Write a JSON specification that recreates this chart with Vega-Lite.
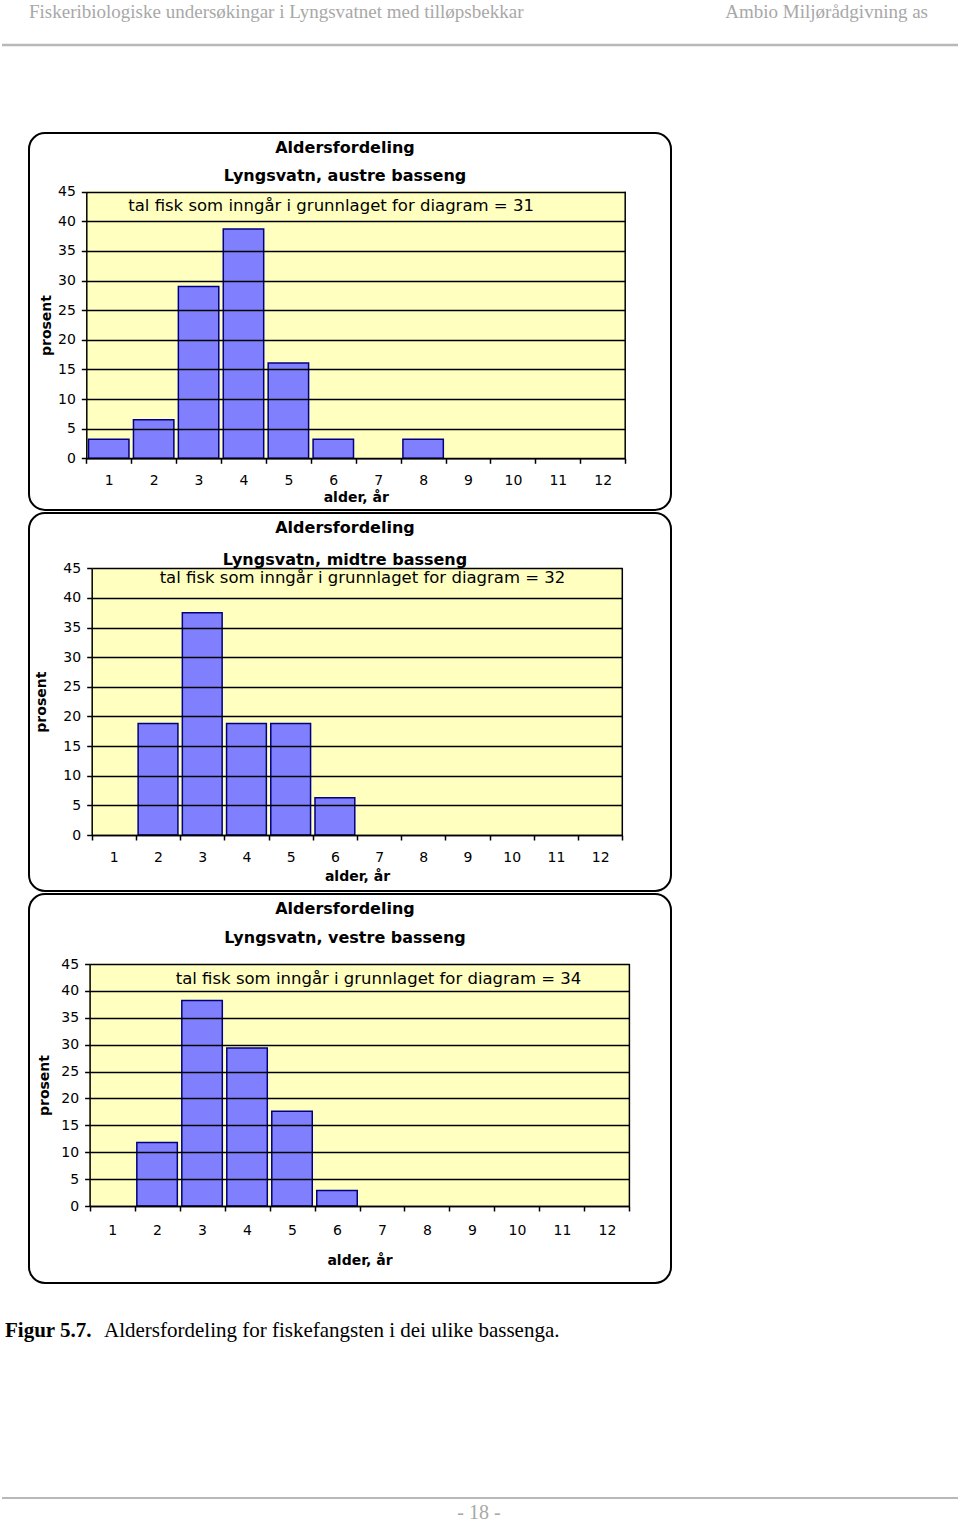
{
  "$schema": "https://vega.github.io/schema/vega-lite/v6.json",
  "padding": 0,
  "background": "white",
  "spacing": 3,
  "bounds": "flush",
  "config": {
    "view": {"stroke": null},
    "font": "DejaVu Sans",
    "text": {"color": "black"},
    "axis": {
      "labelFont": "DejaVu Sans", "labelFontSize": 14, "labelColor": "black",
      "titleFont": "DejaVu Sans", "titleFontSize": 14, "titleFontWeight": "bold", "titleColor": "black",
      "domainColor": "black", "domainWidth": 1.5, "tickColor": "black", "tickWidth": 1.5, "tickSize": 5,
      "gridColor": "black", "gridOpacity": 1, "gridWidth": 1.5
    },
    "title": {
      "font": "DejaVu Sans", "fontSize": 16, "fontWeight": "bold", "color": "black",
      "subtitleFont": "DejaVu Sans", "subtitleFontSize": 16, "subtitleFontWeight": "bold", "subtitleColor": "black",
      "anchor": "middle", "frame": "group"
    }
  },
  "datasets": {
    "alder": [
      {"basseng": "austre", "alder": 1, "prosent": 3.2},
      {"basseng": "austre", "alder": 2, "prosent": 6.5},
      {"basseng": "austre", "alder": 3, "prosent": 29.0},
      {"basseng": "austre", "alder": 4, "prosent": 38.7},
      {"basseng": "austre", "alder": 5, "prosent": 16.1},
      {"basseng": "austre", "alder": 6, "prosent": 3.2},
      {"basseng": "austre", "alder": 7, "prosent": 0},
      {"basseng": "austre", "alder": 8, "prosent": 3.2},
      {"basseng": "austre", "alder": 9, "prosent": 0},
      {"basseng": "austre", "alder": 10, "prosent": 0},
      {"basseng": "austre", "alder": 11, "prosent": 0},
      {"basseng": "austre", "alder": 12, "prosent": 0},
      {"basseng": "midtre", "alder": 1, "prosent": 0},
      {"basseng": "midtre", "alder": 2, "prosent": 18.8},
      {"basseng": "midtre", "alder": 3, "prosent": 37.5},
      {"basseng": "midtre", "alder": 4, "prosent": 18.8},
      {"basseng": "midtre", "alder": 5, "prosent": 18.8},
      {"basseng": "midtre", "alder": 6, "prosent": 6.3},
      {"basseng": "midtre", "alder": 7, "prosent": 0},
      {"basseng": "midtre", "alder": 8, "prosent": 0},
      {"basseng": "midtre", "alder": 9, "prosent": 0},
      {"basseng": "midtre", "alder": 10, "prosent": 0},
      {"basseng": "midtre", "alder": 11, "prosent": 0},
      {"basseng": "midtre", "alder": 12, "prosent": 0},
      {"basseng": "vestre", "alder": 1, "prosent": 0},
      {"basseng": "vestre", "alder": 2, "prosent": 11.8},
      {"basseng": "vestre", "alder": 3, "prosent": 38.2},
      {"basseng": "vestre", "alder": 4, "prosent": 29.4},
      {"basseng": "vestre", "alder": 5, "prosent": 17.6},
      {"basseng": "vestre", "alder": 6, "prosent": 2.9},
      {"basseng": "vestre", "alder": 7, "prosent": 0},
      {"basseng": "vestre", "alder": 8, "prosent": 0},
      {"basseng": "vestre", "alder": 9, "prosent": 0},
      {"basseng": "vestre", "alder": 10, "prosent": 0},
      {"basseng": "vestre", "alder": 11, "prosent": 0},
      {"basseng": "vestre", "alder": 12, "prosent": 0}
    ]
  },
  "vconcat": [
    {
      "width": 929, "height": 130,
      "view": {"stroke": null},
      "layer": [
        {
          "data": {"values": [{}]},
          "mark": {"type": "rule", "stroke": "#b8b8b8", "strokeWidth": 2.5},
          "encoding": {
            "x": {"datum": 1, "type": "quantitative", "scale": {"domain": [0, 957], "range": [-28, 929], "nice": false, "zero": false}, "axis": null},
            "x2": {"datum": 957},
            "y": {"datum": 45, "type": "quantitative", "scale": {"domain": [0, 130], "range": [0, 130], "nice": false, "zero": false}, "axis": null}
          }
        },
        {
          "data": {"values": [{"t": "Fiskeribiologiske undersøkingar i Lyngsvatnet med tilløpsbekkar"}]},
          "mark": {"type": "text", "align": "left", "baseline": "middle", "font": "Liberation Serif", "fontSize": 19, "color": "#a8a8a8"},
          "encoding": {
            "text": {"field": "t"},
            "x": {"datum": 28, "type": "quantitative", "axis": null},
            "y": {"datum": 12, "type": "quantitative", "axis": null}
          }
        },
        {
          "data": {"values": [{"t": "Ambio Miljørådgivning as"}]},
          "mark": {"type": "text", "align": "right", "baseline": "middle", "font": "Liberation Serif", "fontSize": 19, "color": "#a8a8a8"},
          "encoding": {
            "text": {"field": "t"},
            "x": {"datum": 927, "type": "quantitative", "axis": null},
            "y": {"datum": 12, "type": "quantitative", "axis": null}
          }
        }
      ]
    },
    {
      "width": 642, "height": 377,
      "view": {"fill": "white", "stroke": "black", "strokeWidth": 2, "cornerRadius": 16},
      "title": {"text": "Aldersfordeling", "subtitle": "Lyngsvatn, austre basseng", "offset": -51, "subtitlePadding": 11.7, "dx": -5},
      "encoding": {
        "x": {"field": "alder", "type": "ordinal",
          "scale": {"domain": [1,2,3,4,5,6,7,8,9,10,11,12], "range": [57.3, 596.2], "paddingInner": 0, "paddingOuter": 0},
          "axis": {"orient": "bottom", "offset": -51.7, "tickBand": "extent", "labelAngle": 0, "labelPadding": 10.5, "grid": false, "title": "alder, år", "titleY": 38.8, "titleBaseline": "middle", "zindex": 1}}
      },
      "layer": [
        {
          "data": {"name": "alder"},
          "transform": [{"filter": "datum.basseng === 'austre'"}],
          "mark": {"type": "bar", "fill": "#ffffc0", "stroke": "#ffffc0", "strokeWidth": 1, "zindex": 0},
          "encoding": {"y": {"datum": 45, "type": "quantitative", "scale": {"domain": [0, 45], "range": [325.3, 58.7], "nice": false, "zero": false}}}
        },
        {
          "data": {"values": [{}]},
          "mark": {"type": "rule", "color": "black", "strokeWidth": 1.5, "zindex": 1},
          "encoding": {
            "x": {"datum": 12, "type": "ordinal", "bandPosition": 1},
            "y": {"datum": 0, "type": "quantitative"},
            "y2": {"datum": 45}
          }
        },
        {
          "data": {"name": "alder"},
          "transform": [{"filter": "datum.basseng === 'austre' && datum.prosent > 0"}],
          "mark": {"type": "bar", "fill": "#8080ff", "stroke": "#000080", "strokeWidth": 1.5, "width": {"band": 0.9}, "zindex": 2},
          "encoding": {"y": {"field": "prosent", "type": "quantitative",
            "scale": {"domain": [0, 45], "range": [325.3, 58.7], "nice": false, "zero": false},
            "axis": {"orient": "left", "offset": -57.3, "values": [0,5,10,15,20,25,30,35,40,45], "grid": true, "labelPadding": 6, "title": "prosent", "titleX": -40.3, "titleBaseline": "middle", "zindex": 1}}}
        },
        {
          "data": {"values": [{"t": "tal fisk som inngår i grunnlaget for diagram = 31"}]},
          "mark": {"type": "text", "fontSize": 16.5, "color": "black", "zindex": 3},
          "encoding": {
            "text": {"field": "t"},
            "x": {"datum": 6, "type": "ordinal", "bandPosition": 0.45},
            "y": {"datum": 42.6, "type": "quantitative"}
          }
        }
      ]
    },
    {
      "width": 642, "height": 378,
      "view": {"fill": "white", "stroke": "black", "strokeWidth": 2, "cornerRadius": 16},
      "title": {"text": "Aldersfordeling", "subtitle": "Lyngsvatn, midtre basseng", "offset": -55.3, "subtitlePadding": 16.6, "dx": -5},
      "encoding": {
        "x": {"field": "alder", "type": "ordinal",
          "scale": {"domain": [1,2,3,4,5,6,7,8,9,10,11,12], "range": [62.7, 593.3], "paddingInner": 0, "paddingOuter": 0},
          "axis": {"orient": "bottom", "offset": -56, "tickBand": "extent", "labelAngle": 0, "labelPadding": 10.5, "grid": false, "title": "alder, år", "titleY": 41.5, "titleBaseline": "middle", "zindex": 1}}
      },
      "layer": [
        {
          "data": {"name": "alder"},
          "transform": [{"filter": "datum.basseng === 'midtre'"}],
          "mark": {"type": "bar", "fill": "#ffffc0", "stroke": "#ffffc0", "strokeWidth": 1, "zindex": 0},
          "encoding": {"y": {"datum": 45, "type": "quantitative", "scale": {"domain": [0, 45], "range": [322, 55.3], "nice": false, "zero": false}}}
        },
        {
          "data": {"values": [{}]},
          "mark": {"type": "rule", "color": "black", "strokeWidth": 1.5, "zindex": 1},
          "encoding": {
            "x": {"datum": 12, "type": "ordinal", "bandPosition": 1},
            "y": {"datum": 0, "type": "quantitative"},
            "y2": {"datum": 45}
          }
        },
        {
          "data": {"name": "alder"},
          "transform": [{"filter": "datum.basseng === 'midtre' && datum.prosent > 0"}],
          "mark": {"type": "bar", "fill": "#8080ff", "stroke": "#000080", "strokeWidth": 1.5, "width": {"band": 0.9}, "zindex": 2},
          "encoding": {"y": {"field": "prosent", "type": "quantitative",
            "scale": {"domain": [0, 45], "range": [322, 55.3], "nice": false, "zero": false},
            "axis": {"orient": "left", "offset": -62.7, "values": [0,5,10,15,20,25,30,35,40,45], "grid": true, "labelPadding": 6, "title": "prosent", "titleX": -50.5, "titleBaseline": "middle", "zindex": 1}}}
        },
        {
          "data": {"values": [{"t": "tal fisk som inngår i grunnlaget for diagram = 32"}]},
          "mark": {"type": "text", "fontSize": 16.5, "color": "black", "zindex": 3},
          "encoding": {
            "text": {"field": "t"},
            "x": {"datum": 7, "type": "ordinal", "bandPosition": 0.124},
            "y": {"datum": 43.4, "type": "quantitative"}
          }
        }
      ]
    },
    {
      "width": 642, "height": 389,
      "view": {"fill": "white", "stroke": "black", "strokeWidth": 2, "cornerRadius": 16},
      "title": {"text": "Aldersfordeling", "subtitle": "Lyngsvatn, vestre basseng", "offset": -51.7, "subtitlePadding": 12.4, "dx": -5},
      "encoding": {
        "x": {"field": "alder", "type": "ordinal",
          "scale": {"domain": [1,2,3,4,5,6,7,8,9,10,11,12], "range": [60.6, 600.4], "paddingInner": 0, "paddingOuter": 0},
          "axis": {"orient": "bottom", "offset": -77, "tickBand": "extent", "labelAngle": 0, "labelPadding": 12, "grid": false, "title": "alder, år", "titleY": 54.7, "titleBaseline": "middle", "zindex": 1}}
      },
      "layer": [
        {
          "data": {"name": "alder"},
          "transform": [{"filter": "datum.basseng === 'vestre'"}],
          "mark": {"type": "bar", "fill": "#ffffc0", "stroke": "#ffffc0", "strokeWidth": 1, "zindex": 0},
          "encoding": {"y": {"datum": 45, "type": "quantitative", "scale": {"domain": [0, 45], "range": [312, 70], "nice": false, "zero": false}}}
        },
        {
          "data": {"values": [{}]},
          "mark": {"type": "rule", "color": "black", "strokeWidth": 1.5, "zindex": 1},
          "encoding": {
            "x": {"datum": 12, "type": "ordinal", "bandPosition": 1},
            "y": {"datum": 0, "type": "quantitative"},
            "y2": {"datum": 45}
          }
        },
        {
          "data": {"name": "alder"},
          "transform": [{"filter": "datum.basseng === 'vestre' && datum.prosent > 0"}],
          "mark": {"type": "bar", "fill": "#8080ff", "stroke": "#000080", "strokeWidth": 1.5, "width": {"band": 0.9}, "zindex": 2},
          "encoding": {"y": {"field": "prosent", "type": "quantitative",
            "scale": {"domain": [0, 45], "range": [312, 70], "nice": false, "zero": false},
            "axis": {"orient": "left", "offset": -60.6, "values": [0,5,10,15,20,25,30,35,40,45], "grid": true, "labelPadding": 6, "title": "prosent", "titleX": -45.6, "titleBaseline": "middle", "zindex": 1}}}
        },
        {
          "data": {"values": [{"t": "tal fisk som inngår i grunnlaget for diagram = 34"}]},
          "mark": {"type": "text", "fontSize": 16.5, "color": "black", "zindex": 3},
          "encoding": {
            "text": {"field": "t"},
            "x": {"datum": 7, "type": "ordinal", "bandPosition": 0.423},
            "y": {"datum": 42.3, "type": "quantitative"}
          }
        }
      ]
    },
    {
      "width": 929, "height": 237,
      "view": {"stroke": null},
      "layer": [
        {
          "data": {"values": [{}]},
          "mark": {"type": "rule", "stroke": "#b8b8b8", "strokeWidth": 2},
          "encoding": {
            "x": {"datum": 1, "type": "quantitative", "scale": {"domain": [0, 957], "range": [-28, 929], "nice": false, "zero": false}, "axis": null},
            "x2": {"datum": 957},
            "y": {"datum": 1498, "type": "quantitative", "scale": {"domain": [1286, 1523], "range": [0, 237], "nice": false, "zero": false}, "axis": null}
          }
        },
        {
          "data": {"values": [{"t": "Figur 5.7."}]},
          "mark": {"type": "text", "align": "left", "baseline": "middle", "font": "Liberation Serif", "fontSize": 21, "fontWeight": "bold", "color": "black"},
          "encoding": {
            "text": {"field": "t"},
            "x": {"datum": 4, "type": "quantitative", "axis": null},
            "y": {"datum": 1331, "type": "quantitative", "axis": null}
          }
        },
        {
          "data": {"values": [{"t": "Aldersfordeling for fiskefangsten i dei ulike bassenga."}]},
          "mark": {"type": "text", "align": "left", "baseline": "middle", "font": "Liberation Serif", "fontSize": 21, "color": "black"},
          "encoding": {
            "text": {"field": "t"},
            "x": {"datum": 103, "type": "quantitative", "axis": null},
            "y": {"datum": 1331, "type": "quantitative", "axis": null}
          }
        },
        {
          "data": {"values": [{"t": "- 18 -"}]},
          "mark": {"type": "text", "align": "center", "baseline": "middle", "font": "Liberation Serif", "fontSize": 20, "color": "#a8a8a8"},
          "encoding": {
            "text": {"field": "t"},
            "x": {"datum": 478, "type": "quantitative", "axis": null},
            "y": {"datum": 1513, "type": "quantitative", "axis": null}
          }
        }
      ]
    }
  ]
}
